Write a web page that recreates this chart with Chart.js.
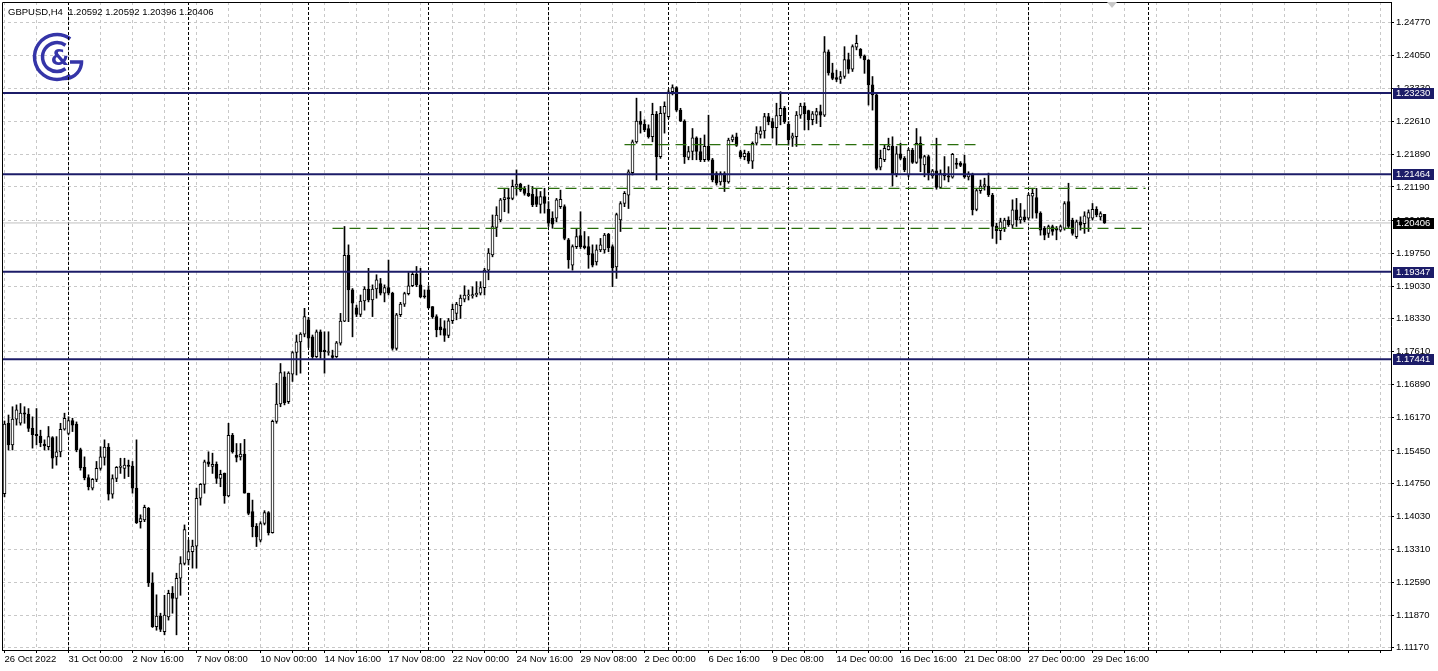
<!DOCTYPE html>
<html>
<head>
<meta charset="utf-8">
<title>GBPUSD,H4</title>
<script src="https://cdn.jsdelivr.net/npm/chart.js@4.4.0/dist/chart.umd.min.js"></script>
<style>
  html, body { margin: 0; padding: 0; background: #fff; }
  #wrap { width: 1438px; height: 671px; }
</style>
</head>
<body>
<div id="wrap"><canvas id="chart" width="1438" height="671"></canvas></div>
<script>
// H4 bars, 26 Oct 2022 08:00 .. 30 Dec 2022 04:00
const opens = [
  1.1452, 1.1605, 1.1558, 1.1614, 1.1605, 1.1628, 1.1625, 1.1594, 1.1581, 1.1577,
  1.1560, 1.1554, 1.1574, 1.1532, 1.1543, 1.1592, 1.1583, 1.1611, 1.1603, 1.1548,
  1.1509, 1.1487, 1.1464, 1.1483, 1.1507, 1.1531, 1.1553, 1.1451, 1.1485, 1.1509,
  1.1507, 1.1514, 1.1512, 1.1464, 1.1391, 1.1395, 1.1420, 1.1258, 1.1163, 1.1186,
  1.1152, 1.1184, 1.1235, 1.1224, 1.1268, 1.1300, 1.1308, 1.1326, 1.1338, 1.1442,
  1.1472, 1.1521, 1.1511, 1.1516, 1.1485, 1.1496, 1.1447, 1.1579, 1.1536, 1.1532,
  1.1538, 1.1453, 1.1413, 1.1381, 1.1351, 1.1387, 1.1411, 1.1367, 1.1609, 1.1647,
  1.1706, 1.1652, 1.1712, 1.1759, 1.1782, 1.1799, 1.1830, 1.1793, 1.1750, 1.1804,
  1.1764, 1.1759, 1.1752, 1.1750, 1.1779, 1.1827, 1.1970, 1.1895, 1.1856, 1.1842,
  1.1871, 1.1897, 1.1873, 1.1897, 1.1909, 1.1888, 1.1900, 1.1888, 1.1768, 1.1841,
  1.1864, 1.1887, 1.1904, 1.1929, 1.1906, 1.1882, 1.1895, 1.1859, 1.1837, 1.1815,
  1.1811, 1.1796, 1.1828, 1.1844, 1.1861, 1.1875, 1.1882, 1.1882, 1.1884, 1.1888,
  1.1900, 1.1938, 1.1971, 1.2031, 1.2047, 1.2091, 1.2096, 1.2094, 1.2120, 1.2125,
  1.2116, 1.2105, 1.2103, 1.2098, 1.2081, 1.2098, 1.2070, 1.2051, 1.2051, 1.2076,
  1.2076, 1.2004, 1.1949, 1.1989, 1.2013, 1.1991, 1.1989, 1.1974, 1.1956, 1.1982,
  1.1982, 1.2016, 1.1989, 1.1945, 1.2047, 1.2083, 1.2101, 1.2150, 1.2217, 1.2262,
  1.2255, 1.2246, 1.2228, 1.2277, 1.2185, 1.2279, 1.2272, 1.2326, 1.2335, 1.2286,
  1.2262, 1.2183, 1.2196, 1.2226, 1.2196, 1.2178, 1.2207, 1.2178, 1.2148, 1.2130,
  1.2148, 1.2130, 1.2221, 1.2228, 1.2196, 1.2185, 1.2192, 1.2175, 1.2214, 1.2233,
  1.2241, 1.2272, 1.2261, 1.2248, 1.2274, 1.2290, 1.2255, 1.2225, 1.2228, 1.2275,
  1.2295, 1.2285, 1.2265, 1.2275, 1.2283, 1.2275, 1.2413, 1.2367, 1.2357, 1.2353,
  1.2359, 1.2396, 1.2375, 1.2423, 1.2418, 1.2404, 1.2395, 1.2341, 1.2319, 1.2162,
  1.2178, 1.2200, 1.2208, 1.2147, 1.2191, 1.2181, 1.2145, 1.2199, 1.2172, 1.2214,
  1.2167, 1.2185, 1.2143, 1.2154, 1.2118, 1.2148, 1.2143, 1.2140, 1.2171, 1.2171,
  1.2170, 1.2141, 1.2145, 1.2070, 1.2111, 1.2120, 1.2121, 1.2101, 1.2034, 1.2024,
  1.2030, 1.2047, 1.2036, 1.2069, 1.2047, 1.2054, 1.2051, 1.2099, 1.2096, 1.2062,
  1.2029, 1.2018, 1.2033, 1.2029, 1.2025, 1.2029, 1.2087, 1.2047, 1.2011, 1.2043,
  1.2039, 1.2051, 1.2051, 1.2070, 1.2054, 1.20592
];
const highs = [
  1.1610, 1.1623, 1.1641, 1.1645, 1.1648, 1.1641, 1.1637, 1.1619, 1.1637, 1.1590,
  1.1569, 1.1598, 1.1576, 1.1576, 1.1605, 1.1627, 1.1619, 1.1616, 1.1608, 1.1551,
  1.1532, 1.1493, 1.1485, 1.1522, 1.1554, 1.1569, 1.1561, 1.1493, 1.1511, 1.1529,
  1.1529, 1.1525, 1.1522, 1.1569, 1.1406, 1.1427, 1.1422, 1.1280, 1.1232, 1.1192,
  1.1231, 1.1242, 1.1250, 1.1279, 1.1315, 1.1384, 1.1351, 1.1351, 1.1464, 1.1474,
  1.1525, 1.1543, 1.1540, 1.1521, 1.1503, 1.1497, 1.1605, 1.1583, 1.1561, 1.1561,
  1.1570, 1.1453, 1.1438, 1.1387, 1.1391, 1.1415, 1.1413, 1.1612, 1.1692, 1.1735,
  1.1717, 1.1717, 1.1761, 1.1797, 1.1802, 1.1855, 1.1835, 1.1797, 1.1808, 1.1808,
  1.1804, 1.1804, 1.1764, 1.1783, 1.1844, 1.2033, 1.1993, 1.1898, 1.1862, 1.1884,
  1.1902, 1.1942, 1.1906, 1.1928, 1.1920, 1.1906, 1.1960, 1.1890, 1.1844, 1.1868,
  1.1890, 1.1933, 1.1935, 1.1946, 1.1942, 1.1895, 1.1904, 1.1859, 1.1841, 1.1833,
  1.1828, 1.1833, 1.1864, 1.1868, 1.1884, 1.1904, 1.1895, 1.1902, 1.1913, 1.1913,
  1.1942, 1.1985, 1.2058, 1.2076, 1.2094, 1.2116, 1.2116, 1.2134, 1.2156, 1.2127,
  1.2120, 1.2123, 1.2120, 1.2116, 1.2109, 1.2116, 1.2087, 1.2065, 1.2094, 1.2112,
  1.2080, 1.2007, 1.1993, 1.2029, 1.2065, 1.2022, 1.2011, 1.1993, 1.1993, 1.2007,
  1.2018, 1.2018, 1.1993, 1.2062, 1.2087, 1.2109, 1.2156, 1.2221, 1.2312, 1.2283,
  1.2265, 1.2254, 1.2301, 1.2283, 1.2294, 1.2304, 1.2330, 1.2341, 1.2337, 1.2290,
  1.2265, 1.2207, 1.2246, 1.2228, 1.2225, 1.2232, 1.2275, 1.2181, 1.2152, 1.2152,
  1.2152, 1.2225, 1.2232, 1.2236, 1.2199, 1.2199, 1.2196, 1.2217, 1.2250, 1.2250,
  1.2279, 1.2279, 1.2268, 1.2301, 1.2326, 1.2294, 1.2261, 1.2236, 1.2283, 1.2301,
  1.2302, 1.2286, 1.2283, 1.2290, 1.2297, 1.2446, 1.2417, 1.2388, 1.2373, 1.2370,
  1.2424, 1.2410, 1.2428, 1.2449, 1.2420, 1.2406, 1.2396, 1.2359, 1.2323, 1.2199,
  1.2210, 1.2225, 1.2228, 1.2207, 1.2214, 1.2185, 1.2203, 1.2203, 1.2246, 1.2228,
  1.2188, 1.2188, 1.2157, 1.2225, 1.2156, 1.2185, 1.2163, 1.2192, 1.2181, 1.2174,
  1.2188, 1.2152, 1.2149, 1.2116, 1.2134, 1.2138, 1.2149, 1.2105, 1.2040, 1.2051,
  1.2051, 1.2054, 1.2091, 1.2094, 1.2083, 1.2069, 1.2105, 1.2116, 1.2116, 1.2065,
  1.2033, 1.2036, 1.2036, 1.2033, 1.2036, 1.2087, 1.2127, 1.2051, 1.2047, 1.2054,
  1.2065, 1.2069, 1.2083, 1.2076, 1.2065, 1.20592
];
const lows = [
  1.1445, 1.1547, 1.1547, 1.1601, 1.1601, 1.1605, 1.1587, 1.1551, 1.1558, 1.1554,
  1.1547, 1.1547, 1.1507, 1.1514, 1.1532, 1.1590, 1.1580, 1.1587, 1.1543, 1.1503,
  1.1482, 1.1460, 1.1460, 1.1478, 1.1503, 1.1514, 1.1438, 1.1442, 1.1478, 1.1496,
  1.1485, 1.1489, 1.1453, 1.1387, 1.1377, 1.1391, 1.1250, 1.1161, 1.1155, 1.1152,
  1.1145, 1.1177, 1.1192, 1.1145, 1.1231, 1.1297, 1.1297, 1.1290, 1.1290, 1.1427,
  1.1453, 1.1511, 1.1496, 1.1474, 1.1467, 1.1431, 1.1445, 1.1540, 1.1521, 1.1525,
  1.1453, 1.1406, 1.1358, 1.1337, 1.1347, 1.1384, 1.1362, 1.1366, 1.1605, 1.1641,
  1.1645, 1.1648, 1.1696, 1.1710, 1.1714, 1.1793, 1.1770, 1.1746, 1.1748, 1.1746,
  1.1714, 1.1753, 1.1745, 1.1748, 1.1775, 1.1826, 1.1826, 1.1793, 1.1837, 1.1837,
  1.1851, 1.1869, 1.1837, 1.1877, 1.1884, 1.1869, 1.1884, 1.1764, 1.1764, 1.1837,
  1.1859, 1.1884, 1.1902, 1.1902, 1.1878, 1.1877, 1.1855, 1.1833, 1.1793, 1.1797,
  1.1783, 1.1791, 1.1822, 1.1830, 1.1833, 1.1869, 1.1873, 1.1877, 1.1880, 1.1884,
  1.1884, 1.1917, 1.1967, 1.2011, 1.2043, 1.2065, 1.2062, 1.2091, 1.2101, 1.2109,
  1.2101, 1.2098, 1.2076, 1.2076, 1.2062, 1.2062, 1.2033, 1.2029, 1.2043, 1.2072,
  1.2004, 1.1942, 1.1938, 1.1985, 1.1985, 1.1984, 1.1942, 1.1945, 1.1949, 1.1978,
  1.1975, 1.1978, 1.1902, 1.1920, 1.2022, 1.2076, 1.2072, 1.2145, 1.2214, 1.2236,
  1.2239, 1.2225, 1.2217, 1.2134, 1.2181, 1.2236, 1.2268, 1.2319, 1.2283, 1.2261,
  1.2170, 1.2178, 1.2178, 1.2178, 1.2174, 1.2174, 1.2175, 1.2130, 1.2123, 1.2123,
  1.2109, 1.2127, 1.2217, 1.2207, 1.2181, 1.2178, 1.2170, 1.2159, 1.2210, 1.2225,
  1.2225, 1.2254, 1.2225, 1.2210, 1.2254, 1.2257, 1.2210, 1.2207, 1.2207, 1.2268,
  1.2243, 1.2243, 1.2254, 1.2257, 1.2250, 1.2272, 1.2362, 1.2352, 1.2348, 1.2344,
  1.2355, 1.2366, 1.2370, 1.2417, 1.2399, 1.2366, 1.2297, 1.2286, 1.2156, 1.2156,
  1.2174, 1.2199, 1.2121, 1.2141, 1.2178, 1.2152, 1.2141, 1.2170, 1.2170, 1.2152,
  1.2141, 1.2134, 1.2138, 1.2114, 1.2116, 1.2134, 1.2130, 1.2138, 1.2159, 1.2163,
  1.2138, 1.2134, 1.2058, 1.2067, 1.2105, 1.2112, 1.2098, 1.2007, 1.1996, 1.2004,
  1.2022, 1.2033, 1.2029, 1.2033, 1.2040, 1.2043, 1.2047, 1.2051, 1.2051, 1.2014,
  1.2004, 1.2009, 1.2014, 1.2004, 1.2022, 1.2025, 1.2029, 1.2014, 1.2007, 1.2025,
  1.2018, 1.2022, 1.2047, 1.2054, 1.2047, 1.20396
];
const closes = [
  1.1603, 1.1558, 1.1614, 1.1634, 1.1627, 1.1625, 1.1594, 1.1580, 1.1578, 1.1563,
  1.1556, 1.1576, 1.1529, 1.1543, 1.1592, 1.1616, 1.1611, 1.1601, 1.1547, 1.1508,
  1.1487, 1.1467, 1.1483, 1.1507, 1.1532, 1.1553, 1.1451, 1.1485, 1.1509, 1.1512,
  1.1514, 1.1511, 1.1464, 1.1389, 1.1398, 1.1422, 1.1258, 1.1163, 1.1186, 1.1157,
  1.1188, 1.1235, 1.1224, 1.1268, 1.1300, 1.1374, 1.1326, 1.1338, 1.1442, 1.1472,
  1.1521, 1.1516, 1.1516, 1.1485, 1.1494, 1.1447, 1.1579, 1.1543, 1.1531, 1.1538,
  1.1453, 1.1409, 1.1380, 1.1358, 1.1387, 1.1411, 1.1367, 1.1609, 1.1647, 1.1715,
  1.1650, 1.1714, 1.1759, 1.1782, 1.1799, 1.1837, 1.1790, 1.1750, 1.1804, 1.1761,
  1.1761, 1.1761, 1.1748, 1.1780, 1.1827, 1.1970, 1.1895, 1.1866, 1.1842, 1.1871,
  1.1897, 1.1873, 1.1897, 1.1917, 1.1888, 1.1900, 1.1888, 1.1768, 1.1841, 1.1864,
  1.1887, 1.1904, 1.1929, 1.1906, 1.1880, 1.1880, 1.1856, 1.1837, 1.1808, 1.1808,
  1.1796, 1.1828, 1.1853, 1.1864, 1.1877, 1.1884, 1.1884, 1.1885, 1.1888, 1.1900,
  1.1938, 1.1975, 1.2033, 1.2058, 1.2091, 1.2096, 1.2093, 1.2120, 1.2125, 1.2112,
  1.2105, 1.2100, 1.2080, 1.2081, 1.2098, 1.2083, 1.2040, 1.2038, 1.2091, 1.2092,
  1.2007, 1.1960, 1.1989, 1.2011, 1.1989, 1.1987, 1.1971, 1.1949, 1.1982, 1.1993,
  1.2014, 1.1987, 1.1943, 1.2059, 1.2083, 1.2105, 1.2152, 1.2217, 1.2262, 1.2255,
  1.2243, 1.2228, 1.2277, 1.2185, 1.2279, 1.2294, 1.2326, 1.2335, 1.2286, 1.2262,
  1.2185, 1.2196, 1.2226, 1.2196, 1.2178, 1.2207, 1.2178, 1.2134, 1.2127, 1.2148,
  1.2130, 1.2221, 1.2228, 1.2209, 1.2185, 1.2192, 1.2175, 1.2214, 1.2236, 1.2241,
  1.2272, 1.2261, 1.2248, 1.2274, 1.2290, 1.2261, 1.2221, 1.2230, 1.2275, 1.2295,
  1.2278, 1.2265, 1.2278, 1.2283, 1.2275, 1.2413, 1.2367, 1.2355, 1.2353, 1.2359,
  1.2396, 1.2375, 1.2424, 1.2431, 1.2404, 1.2395, 1.2341, 1.2319, 1.2159, 1.2181,
  1.2203, 1.2208, 1.2147, 1.2191, 1.2181, 1.2156, 1.2199, 1.2172, 1.2214, 1.2181,
  1.2185, 1.2149, 1.2154, 1.2118, 1.2148, 1.2143, 1.2140, 1.2190, 1.2168, 1.2166,
  1.2141, 1.2147, 1.2069, 1.2111, 1.2121, 1.2124, 1.2102, 1.2033, 1.2024, 1.2043,
  1.2047, 1.2037, 1.2069, 1.2047, 1.2054, 1.2047, 1.2101, 1.2105, 1.2062, 1.2025,
  1.2014, 1.2033, 1.2022, 1.2025, 1.2033, 1.2083, 1.2033, 1.2018, 1.2043, 1.2036,
  1.2056, 1.2063, 1.2070, 1.2058, 1.2061, 1.20406
];

// one time label every 16 bars, starting at bar 0
const timeLabels = [
  '26 Oct 2022', '31 Oct 00:00', '2 Nov 16:00', '7 Nov 08:00', '10 Nov 00:00',
  '14 Nov 16:00', '17 Nov 08:00', '22 Nov 00:00', '24 Nov 16:00', '29 Nov 08:00',
  '2 Dec 00:00', '6 Dec 16:00', '9 Dec 08:00', '14 Dec 00:00', '16 Dec 16:00',
  '21 Dec 08:00', '27 Dec 00:00', '29 Dec 16:00'
];
const priceTicks = [
  1.24770, 1.24050, 1.23330, 1.22610, 1.21890, 1.21190, 1.20470, 1.19750, 1.19030, 1.18330,
  1.17610, 1.16890, 1.16170, 1.15450, 1.14750, 1.14030, 1.13310, 1.12590, 1.11870, 1.11170
];
// bars where a new week starts (period separators)
const weekStarts = [16, 46, 76, 106, 136, 166, 196, 226, 256, 286];

// horizontal levels drawn on the chart
const levelPrices = [1.23230, 1.21464, 1.19347, 1.17441];
const lastPrice = 1.20406;
const trendPrices = [1.2211, 1.2116, 1.2029];
const trendFrom = [155, 123.25, 82];
const trendTo = [242.75, 285.25, 284.25];

const headerText = 'GBPUSD,H4  1.20592 1.20592 1.20396 1.20406';
const priceMin = 1.11120;
const priceMax = 1.25211;
const barMin = -0.625;
const barMax = 346.625;

const NAVY = '#1c1c68';
const FONT = { family: '"Liberation Sans", Arial, sans-serif', size: 9.5 };

/** Builds a two-point horizontal line dataset */
function hLine(price, from, to, style) {
  return Object.assign({
    type: 'line',
    data: [{ x: from, y: price }, { x: to, y: price }],
    pointRadius: 0,
    fill: false
  }, style);
}

/** Vertical dashed week separators as one broken line */
function separatorData() {
  const pts = [];
  weekStarts.forEach(b => {
    pts.push({ x: b, y: priceMin }, { x: b, y: priceMax }, { x: b, y: null });
  });
  return pts;
}

/** Company logo in the upper left corner */
function drawLogo(ctx) {
  const cx = 57, cy = 57;
  ctx.save();
  ctx.strokeStyle = '#3535a8';
  ctx.fillStyle = '#3535a8';
  ctx.lineWidth = 3.5;
  ctx.beginPath();
  ctx.arc(cx, cy, 22.5, -Math.PI * 0.3, Math.PI * 0.3, true);
  ctx.stroke();
  ctx.beginPath();
  ctx.arc(cx, cy, 14.5, -Math.PI * 0.3, Math.PI * 0.3, true);
  ctx.stroke();
  // the G on the right
  ctx.beginPath();
  ctx.arc(cx + 8, cy + 5, 16.5, Math.PI * 0.55, 0, true);
  ctx.lineTo(cx + 13, cy + 5);
  ctx.stroke();
  ctx.font = 'bold 21px "DejaVu Sans", sans-serif';
  ctx.textAlign = 'center';
  ctx.textBaseline = 'middle';
  ctx.fillText('&', cx + 3, cy + 3);
  ctx.restore();
}

/** Price tag on the right axis */
function drawTag(ctx, y, price, bg) {
  ctx.fillStyle = bg;
  ctx.fillRect(1393, Math.round(y) - 5, 41, 11);
  ctx.fillStyle = '#fff';
  ctx.fillText(price.toFixed(5), 1396, Math.round(y) + 0.5);
}

const terminalPlugin = {
  id: 'terminal',
  beforeDatasetsDraw(chart) {
    drawLogo(chart.ctx);
  },
  afterDraw(chart) {
    const { ctx, chartArea: a, scales: { y } } = chart;
    ctx.save();
    // frame on the left and top
    ctx.strokeStyle = '#000';
    ctx.lineWidth = 1;
    ctx.beginPath();
    ctx.moveTo(a.left + 0.5, a.bottom);
    ctx.lineTo(a.left + 0.5, a.top + 0.5);
    ctx.lineTo(a.right, a.top + 0.5);
    ctx.stroke();

    ctx.font = '9.5px "Liberation Sans", Arial, sans-serif';
    ctx.textAlign = 'left';
    ctx.textBaseline = 'middle';
    ctx.fillStyle = '#000';
    ctx.fillText(headerText, 8, 12);

    levelPrices.forEach(p => drawTag(ctx, y.getPixelForValue(p), p, NAVY));
    drawTag(ctx, y.getPixelForValue(lastPrice), lastPrice, '#000');

    // chart shift marker
    ctx.fillStyle = '#c8c8c8';
    ctx.beginPath();
    ctx.moveTo(1107, 2);
    ctx.lineTo(1117, 2);
    ctx.lineTo(1112, 8);
    ctx.closePath();
    ctx.fill();
    ctx.restore();
  }
};

const bars = opens.map((_, i) => i);

new Chart(document.getElementById('chart'), {
  type: 'bar',
  data: {
    datasets: [
      {
        type: 'line',
        data: separatorData(),
        borderColor: '#000',
        borderWidth: 1,
        borderDash: [3, 2],
        pointRadius: 0,
        spanGaps: false,
        order: 6
      },
      hLine(lastPrice, barMin, barMax, { borderColor: '#c0c0c0', borderWidth: 1, order: 5 }),
      {
        data: bars.map(i => ({ x: i, y: [lows[i], highs[i]] })),
        backgroundColor: '#000',
        borderWidth: 0,
        barThickness: 1,
        minBarLength: 1,
        grouped: false,
        order: 4
      },
      {
        data: bars.map(i => ({ x: i, y: [opens[i], closes[i]] })),
        backgroundColor: ctx => closes[ctx.dataIndex] >= opens[ctx.dataIndex] ? '#fff' : '#000',
        borderColor: '#000',
        borderWidth: 1,
        borderSkipped: false,
        barThickness: 3,
        minBarLength: 1,
        grouped: false,
        order: 3
      },
      ...trendPrices.map((p, k) => hLine(p, trendFrom[k], trendTo[k], {
        borderColor: '#2a6e0c', borderWidth: 1.2, borderDash: [11, 6], order: 2
      })),
      ...levelPrices.map(p => hLine(p, barMin, barMax, {
        borderColor: NAVY, borderWidth: 2, order: 1
      }))
    ]
  },
  options: {
    responsive: false,
    devicePixelRatio: 1,
    animation: false,
    events: [],
    layout: { padding: { left: 2, top: 2, right: 0, bottom: 0 } },
    plugins: { legend: { display: false }, tooltip: { enabled: false } },
    scales: {
      x: {
        type: 'linear',
        offset: false,
        min: barMin,
        max: barMax,
        afterBuildTicks: scale => {
          const t = [];
          for (let b = 0; b <= barMax; b += 8) t.push({ value: b });
          scale.ticks = t;
        },
        afterFit: scale => {
          scale.height = 21;
          scale.paddingLeft = 0;
          scale.paddingRight = 0;
        },
        grid: {
          offset: false, color: '#c8c8c8', lineWidth: 1,
          drawTicks: true, tickLength: 3, tickColor: '#000', tickBorderDash: []
        },
        border: { display: true, color: '#000', width: 1, dash: [3, 3] },
        ticks: {
          autoSkip: false, maxRotation: 0, minRotation: 0, align: 'start',
          padding: 1, color: '#000', font: FONT,
          callback: v => (v % 16 === 0 && timeLabels[v / 16]) ? timeLabels[v / 16] : ''
        }
      },
      y: {
        type: 'linear',
        position: 'right',
        min: priceMin,
        max: priceMax,
        afterBuildTicks: scale => { scale.ticks = priceTicks.map(v => ({ value: v })); },
        afterFit: scale => {
          scale.width = 47;
          scale.paddingTop = 0;
          scale.paddingBottom = 0;
        },
        grid: {
          color: '#c8c8c8', lineWidth: 1,
          drawTicks: true, tickLength: 3, tickColor: '#000', tickBorderDash: []
        },
        border: { display: true, color: '#000', width: 1, dash: [3, 3] },
        ticks: {
          autoSkip: false, padding: 2, color: '#000', font: FONT,
          callback: v => Number(v).toFixed(5)
        }
      }
    }
  },
  plugins: [terminalPlugin]
});
</script>
</body>
</html>
